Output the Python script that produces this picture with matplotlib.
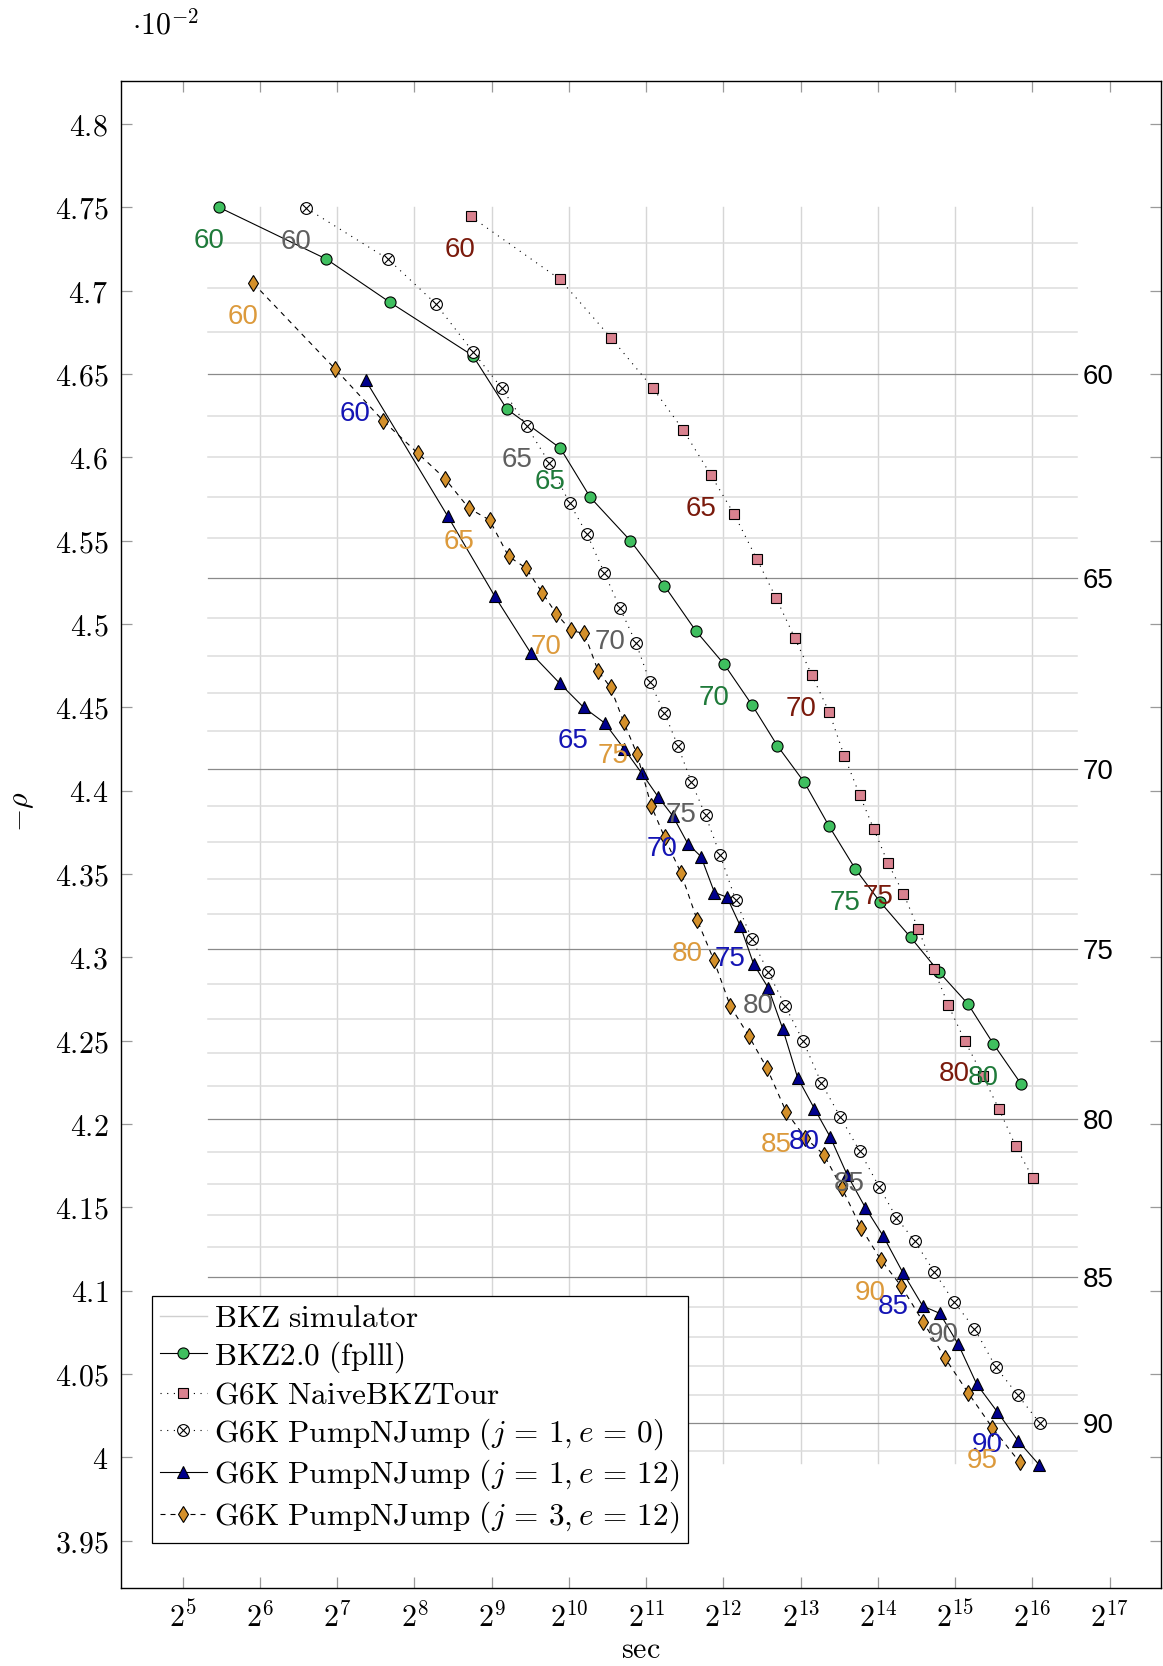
import numpy as np
import matplotlib
matplotlib.use('Agg')
import matplotlib.pyplot as plt
from matplotlib.path import Path
from matplotlib.lines import Line2D
from matplotlib import transforms

plt.rcParams['mathtext.fontset'] = 'cm'

# -rho values are in units of 1e-2, times in seconds

# BKZ simulator prediction, one per block size
sim_beta = list(range(57, 92))
sim_rho = [4.7284, 4.7014, 4.6754, 4.6500, 4.6250, 4.6002, 4.5760, 4.5518, 4.5278, 4.5038,
           4.4810, 4.4584, 4.4358, 4.4130, 4.3908, 4.3690, 4.3472, 4.3258, 4.3048, 4.2838,
           4.2632, 4.2428, 4.2228, 4.2028, 4.1835, 4.1643, 4.1453, 4.1265, 4.1084, 4.0902,
           4.0723, 4.0546, 4.0373, 4.0204, 4.0038]

# BKZ2.0 (fplll), block sizes 60..81
bkz20_time = [44.3, 115.9, 205.4, 432, 586, 947, 1239, 1776, 2409, 3191, 4127,
              5304, 6640, 8461, 10536, 13373, 16647, 21954, 28417, 36744, 46170, 59180]
bkz20_rho = [4.750, 4.719, 4.693, 4.661, 4.629, 4.6055, 4.576, 4.550, 4.523, 4.496, 4.4757,
             4.4512, 4.427, 4.405, 4.379, 4.353, 4.3335, 4.312, 4.291, 4.272, 4.248, 4.224]

# G6K NaiveBKZTour, block sizes 60..84
naive_time = [424, 944, 1492, 2169, 2856, 3661, 4513, 5515, 6557, 7783, 9046, 10585, 12117,
              13903, 15808, 17937, 20584, 23545, 27020, 30746, 35718, 42000, 48450, 56420, 65720]
naive_rho = [4.7445, 4.7068, 4.6717, 4.6417, 4.6163, 4.5893, 4.5657, 4.5392, 4.5158, 4.4913,
             4.4694, 4.4470, 4.4206, 4.3974, 4.3767, 4.3564, 4.3383, 4.3169, 4.2930, 4.2716,
             4.2499, 4.2288, 4.2091, 4.1867, 4.1676]

# G6K PumpNJump j=1, e=0, block sizes 60..94
pnj10_time = [96.7, 201.6, 309.6, 432, 561, 702, 857.5, 1029, 1203, 1405, 1618, 1867, 2118,
              2409, 2723, 3067, 3490, 3970, 4567, 5274, 6124, 7135, 8366, 9857, 11680, 13880,
              16590, 19320, 22790, 27120, 32360, 38940, 47110, 57380, 69810]
pnj10_rho = [4.7496, 4.7190, 4.6922, 4.6634, 4.6414, 4.6185, 4.5967, 4.5726, 4.5540, 4.5308,
             4.5095, 4.4887, 4.4651, 4.4468, 4.4267, 4.4054, 4.3851, 4.3615, 4.3345, 4.3112,
             4.2911, 4.2706, 4.2498, 4.2246, 4.2043, 4.1839, 4.1621, 4.1439, 4.1297, 4.1114,
             4.0934, 4.0773, 4.0543, 4.0375, 4.0207]

# G6K PumpNJump j=1, e=12, block sizes 60..92
pnj112_time = [165, 344.5, 526.9, 727.2, 941, 1167, 1413, 1681, 1964, 2281, 2594, 2979, 3346,
               3777, 4226, 4761, 5370, 6115, 6967, 7968, 9256, 10680, 12410, 14620, 17180,
               20520, 24480, 28520, 33630, 39740, 47700, 57600, 69700]
pnj112_rho = [4.6463, 4.5648, 4.5165, 4.4825, 4.4645, 4.4500, 4.4405, 4.4250, 4.4106, 4.3962,
              4.3850, 4.3680, 4.3605, 4.3389, 4.3361, 4.3189, 4.2959, 4.2818, 4.2572, 4.2277,
              4.2093, 4.1921, 4.1697, 4.1499, 4.1327, 4.1106, 4.0908, 4.0864, 4.0680, 4.0439,
              4.0275, 4.0099, 3.9954]

# G6K PumpNJump j=3, e=12, block sizes 60..96
pnj312_time = [60.3, 126, 193.2, 264.4, 336.6, 417.1, 501.9, 595.3, 695.5, 805.3, 913.4, 1042,
               1175, 1331, 1487, 1673, 1885, 2142, 2416, 2798, 3236, 3748, 4353, 5133, 6054,
               7189, 8534, 10070, 11830, 14080, 16800, 20210, 24540, 29920, 36880, 45720, 58450]
pnj312_rho = [4.7044, 4.6528, 4.6219, 4.6023, 4.5872, 4.5694, 4.5624, 4.5406, 4.5336, 4.5188,
              4.5062, 4.4961, 4.4943, 4.4717, 4.4620, 4.4412, 4.4220, 4.3909, 4.3719, 4.3505,
              4.3223, 4.2987, 4.2708, 4.2530, 4.2334, 4.2073, 4.1917, 4.1817, 4.1618, 4.1376,
              4.1186, 4.1026, 4.0814, 4.0595, 4.0385, 4.0178, 3.9970]

FS = 21.5
LFS = 22.5

fig = plt.figure(figsize=(11.63, 16.66), dpi=100)
ax = fig.add_axes([0.1038, 0.0468, 0.8949, 0.9046])
ax.set_xscale('log', base=2)

# grid box of the simulator overlay
gx0, gx1 = 40, 2 ** 16.578
gy0, gy1 = 3.9964, 4.75
for e in range(6, 17):
    ax.plot([2 ** e, 2 ** e], [gy0, gy1], color='#d6d6d6', lw=1.0, zorder=1)
right = transforms.blended_transform_factory(ax.transAxes, ax.transData)
for b, v in zip(sim_beta, sim_rho):
    if b % 5 == 0:
        ax.plot([gx0, gx1], [v, v], color='#8a8a8a', lw=0.9, zorder=1.5)
        ax.annotate(str(b), (0.9243, v), xycoords=right,
                    xytext=(0, -7.2), textcoords='offset points', ha='left', va='baseline',
                    family='Liberation Sans', fontsize=20, color='black')
    else:
        ax.plot([gx0, gx1], [v, v], color='#dcdcdc', lw=1.1, zorder=1)

# circle with a cross inside
otimes = Path.make_compound_path(
    Path.unit_circle(),
    Path([(-0.7071, -0.7071), (0.7071, 0.7071)], [Path.MOVETO, Path.LINETO]),
    Path([(-0.7071, 0.7071), (0.7071, -0.7071)], [Path.MOVETO, Path.LINETO]))

dotted = (0, (1.0, 5.0))
series = [
    (bkz20_time, bkz20_rho, dict(marker='o', ms=8, mfc='#3fbf5f', ls='-'), '#1f7a3a',
     r'$\mathrm{BKZ2.0\ (fplll)}$'),
    (naive_time, naive_rho, dict(marker='s', ms=7.5, mfc='#d9828f', ls=dotted), '#7a1a0c',
     r'$\mathrm{G6K\ NaiveBKZTour}$'),
    (pnj10_time, pnj10_rho, dict(marker=otimes, ms=8.5, mfc='white', ls=dotted), '#5f5f5f',
     r'$\mathrm{G6K\ PumpNJump}\ (j\,=\,1, e\,=\,0)$'),
    (pnj112_time, pnj112_rho, dict(marker='^', ms=8, mfc='#00008c', ls='-'), '#1414b4',
     r'$\mathrm{G6K\ PumpNJump}\ (j\,=\,1, e\,=\,12)$'),
    (pnj312_time, pnj312_rho, dict(marker='d', ms=8.5, mfc='#d4902a', ls=(0, (4.5, 4.5))), '#dc9a3c',
     r'$\mathrm{G6K\ PumpNJump}\ (j\,=\,3, e\,=\,12)$'),
]

handles = [Line2D([], [], color='#cfcfcf', lw=1.0)]
labels = [r'$\mathrm{BKZ\ simulator}$']
for t, r, style, lcol, name in series:
    ln, = ax.plot(t, r, color='black', lw=0.8, mec='black', mew=0.8, zorder=3, **style)
    handles.append(ln)
    labels.append(name)
    for i in range(0, len(t), 5):
        ax.annotate(str(60 + i), (t[i], r[i]), xytext=(-7.4, -29.2), textcoords='offset points',
                    ha='center', va='baseline', family='Liberation Sans', fontsize=20,
                    color=lcol, zorder=4)

ax.set_xlim(2 ** 4.197, 2 ** 17.67)
ax.set_ylim(3.9216, 4.8258)

xt = [2 ** e for e in range(5, 18)]
ax.set_xticks(xt)
ax.set_xticklabels([r'$2^{%d}$' % e for e in range(5, 18)], fontsize=FS)
ax.xaxis.set_minor_locator(matplotlib.ticker.NullLocator())
yt = np.round(np.arange(3.95, 4.801, 0.05), 2)
ax.set_yticks(yt)
ax.set_yticklabels([r'$%g$' % v for v in yt], fontsize=FS)
ax.tick_params(which='both', direction='in', top=True, right=True, length=8, width=0.9,
               color='#9a9a9a')
ax.tick_params(axis='x', pad=10)
ax.tick_params(axis='y', pad=9)
for s in ax.spines.values():
    s.set_linewidth(1.0)

ax.text(0.5, -0.0405, r'$\mathrm{sec}$', transform=ax.transAxes, ha='center', va='center', fontsize=FS)
ax.text(-0.0958, 0.515, r'$-\rho$', transform=ax.transAxes, ha='center', va='center',
        rotation=90, fontsize=FS)
fig.text(0.1135, 0.985, r'$\cdot 10^{-2}$', ha='left', va='center', fontsize=FS)

leg = ax.legend(handles, labels, loc='lower left', bbox_to_anchor=(0.03, 0.03), borderaxespad=0,
                fontsize=LFS, numpoints=1, handlelength=1.5, handletextpad=0.25, labelspacing=0.2,
                borderpad=0.25, fancybox=False, framealpha=1, edgecolor='black')
leg.get_frame().set_linewidth(0.9)
leg.set_zorder(5)

fig.savefig('out.png', dpi=100)
